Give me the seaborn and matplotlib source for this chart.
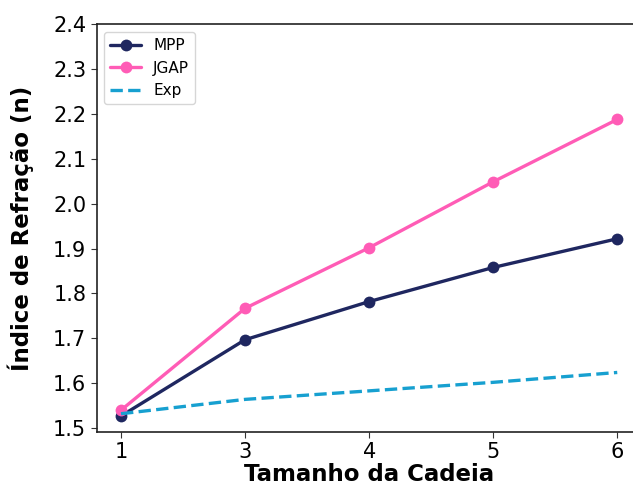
import matplotlib
matplotlib.use("Agg")
import matplotlib.pyplot as plt
import seaborn as sns
import pandas as pd

# Chain length (categorical) and refractive index values
tamanho = ["1", "3", "4", "5", "6"]
mpp = [1.527, 1.697, 1.782, 1.858, 1.922]
jgap = [1.540, 1.767, 1.902, 2.049, 2.188]
exp = [1.532, 1.564, 1.583, 1.602, 1.624]

sns.set_style("ticks")
plt.rcParams["font.family"] = ["DejaVu Sans"]
plt.rcParams["text.color"] = "black"
plt.rcParams["axes.labelcolor"] = "black"
plt.rcParams["xtick.color"] = "black"
plt.rcParams["ytick.color"] = "black"

df = pd.DataFrame({"Tamanho": tamanho, "MPP": mpp, "JGAP": jgap, "Exp": exp})

fig = plt.figure(figsize=(6.33, 4.88), dpi=100)
ax = fig.add_axes([0.1528, 0.1154, 0.8615, 0.8348])

sns.lineplot(data=df, x="Tamanho", y="MPP", ax=ax, color="#1f2760", lw=2.4,
             marker="o", markersize=8.5, markeredgewidth=0, label="MPP", sort=False)
sns.lineplot(data=df, x="Tamanho", y="JGAP", ax=ax, color="#ff5cb6", lw=2.4,
             marker="o", markersize=8.5, markeredgewidth=0, label="JGAP", sort=False)
sns.lineplot(data=df, x="Tamanho", y="Exp", ax=ax, color="#17a0d0", lw=2.4,
             linestyle="--", label="Exp", sort=False)

ax.set_xlim(-0.196, 4.2)
ax.set_ylim(1.492, 2.4)
ax.set_yticks([1.5, 1.6, 1.7, 1.8, 1.9, 2.0, 2.1, 2.2, 2.3, 2.4])
ax.tick_params(labelsize=15, direction="out", length=4, color="#333333")
for s in ax.spines.values():
    s.set_color("#222222")
    s.set_linewidth(1.2)

ax.set_xlabel("Tamanho da Cadeia", fontsize=16.5, fontweight="bold", labelpad=1)
ax.set_ylabel("Índice de Refração (n)", fontsize=16.5, fontweight="bold", labelpad=14)

ax.legend(loc="upper left", fontsize=11, frameon=True, handlelength=2.0)

fig.savefig("out.png", dpi=100)
